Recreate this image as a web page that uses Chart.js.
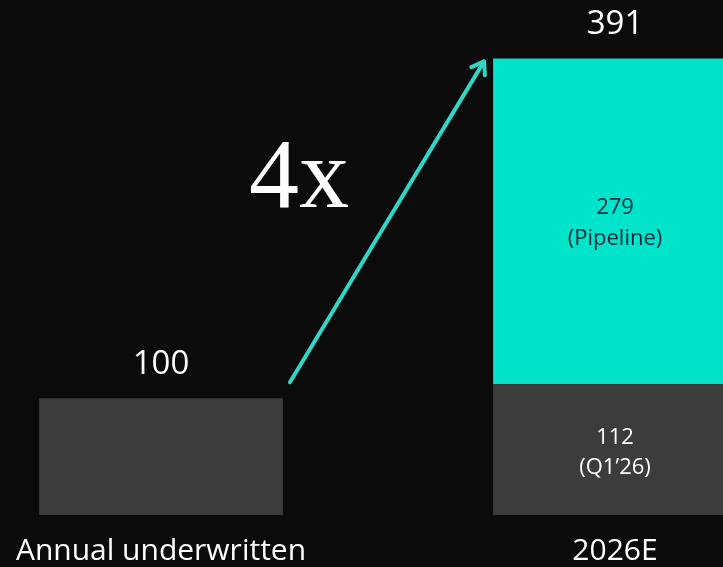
<!DOCTYPE html>
<html>
<head>
<meta charset="utf-8">
<script src="https://cdn.jsdelivr.net/npm/chart.js@4"></script>
<style>
  html, body { margin: 0; padding: 0; background: #0b0b0b; overflow: hidden; }
  #wrap { position: absolute; left: -66px; top: 0; width: 908px; height: 567px; }
</style>
</head>
<body>
<div id="wrap"><canvas id="c"></canvas></div>
<script>
// Categories and stacked series
const categories = ['Annual underwritten', '2026E'];
const baseValues = [100, 112];        // grey segment
const pipelineValues = [null, 279];   // cyan segment
const baseInnerLabels = [null, ['112', '(Q1\u201926)']];
const pipelineInnerLabels = [null, ['279', '(Pipeline)']];
const totalLabels = ['100', '391'];
const multipleLabel = '4x';

const GREY = '#3c3c3c';
const CYAN = '#00e4cc';
const FONT = '"Open Sans", "Noto Sans", sans-serif';

const overlay = {
  id: 'overlay',
  afterDatasetsDraw(chart) {
    const ctx = chart.ctx;
    const x = chart.scales.x;
    const m0 = chart.getDatasetMeta(0).data;
    const m1 = chart.getDatasetMeta(1).data;
    ctx.save();
    ctx.textAlign = 'center';
    ctx.textBaseline = 'middle';

    // totals above each column
    ctx.fillStyle = '#ffffff';
    ctx.font = '500 33px ' + FONT;
    categories.forEach((c, i) => {
      const top = (pipelineValues[i] != null ? m1[i] : m0[i]).y;
      ctx.fillText(totalLabels[i], x.getPixelForValue(i), top - 34);
    });

    // labels inside segments
    ctx.font = '500 22px ' + FONT;
    categories.forEach((c, i) => {
      if (baseInnerLabels[i]) {
        const b = m0[i];
        const cy = (b.y + b.base) / 2;
        ctx.fillStyle = '#ffffff';
        ctx.fillText(baseInnerLabels[i][0], b.x, cy - 12);
        ctx.fillText(baseInnerLabels[i][1], b.x, cy + 18);
      }
      if (pipelineInnerLabels[i]) {
        const b = m1[i];
        const cy = (b.y + b.base) / 2;
        ctx.fillStyle = '#0e2a38';
        ctx.fillText(pipelineInnerLabels[i][0], b.x, cy - 14);
        ctx.fillText(pipelineInnerLabels[i][1], b.x, cy + 17);
      }
    });

    // category names under the columns
    ctx.fillStyle = '#ffffff';
    ctx.font = '30px ' + FONT;
    categories.forEach((c, i) => {
      ctx.fillText(c, x.getPixelForValue(i), chart.chartArea.bottom + 36);
    });

    // growth arrow from first column top to second column top
    const a = m0[0], b = m1[1];
    const sx = a.x + a.width / 2 + 7, sy = a.y - 16;
    const ex = b.x - b.width / 2 - 9, ey = b.y + 3;
    ctx.strokeStyle = '#2fd8c6';
    ctx.lineWidth = 4;
    ctx.lineCap = 'round';
    ctx.lineJoin = 'round';
    ctx.beginPath();
    ctx.moveTo(sx, sy);
    ctx.lineTo(ex, ey);
    ctx.stroke();
    const ang = Math.atan2(ey - sy, ex - sx);
    const h = 14;
    ctx.beginPath();
    ctx.moveTo(ex - h * Math.cos(ang - 0.6), ey - h * Math.sin(ang - 0.6));
    ctx.lineTo(ex, ey);
    ctx.lineTo(ex - h * Math.cos(ang + 0.6), ey - h * Math.sin(ang + 0.6));
    ctx.stroke();

    // multiple label
    ctx.fillStyle = '#ffffff';
    ctx.font = '100px "Liberation Serif", "DejaVu Serif", serif';
    ctx.textBaseline = 'alphabetic';
    ctx.fillText(multipleLabel, (sx + ex) / 2 - 88, 207);
    ctx.restore();
  }
};

new Chart(document.getElementById('c'), {
  type: 'bar',
  data: {
    labels: categories,
    datasets: [
      { data: baseValues, backgroundColor: GREY, barPercentage: 1, categoryPercentage: 0.537 },
      { data: pipelineValues, backgroundColor: CYAN, barPercentage: 1, categoryPercentage: 0.537 }
    ]
  },
  options: {
    responsive: true,
    maintainAspectRatio: false,
    animation: false,
    layout: { padding: { top: 0, bottom: 52, left: 0, right: 0 } },
    plugins: { legend: { display: false }, tooltip: { enabled: false } },
    scales: {
      x: { stacked: true, display: false, offset: true },
      y: { stacked: true, display: false, min: 0, max: 441 }
    }
  },
  plugins: [overlay]
});
</script>
</body>
</html>
